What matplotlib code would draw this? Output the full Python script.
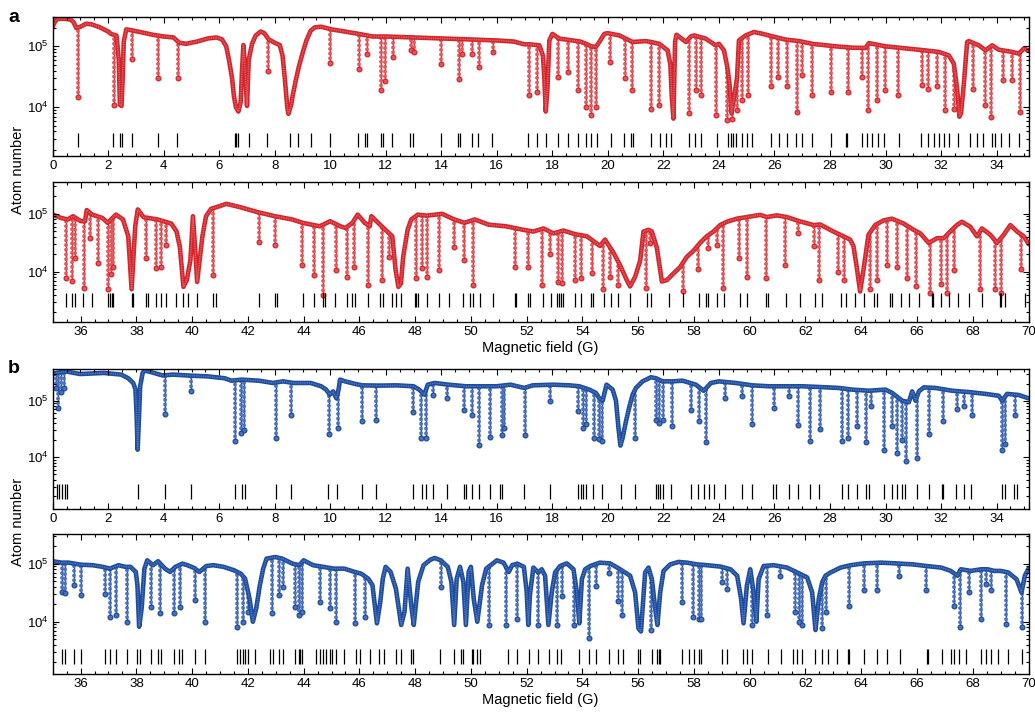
# -*- coding: utf-8 -*-
'''
Loss spectra of Er (a) and Dy (b): atom number vs magnetic field,
with the predicted resonance positions as short black bars underneath.
'''
import numpy as np
import matplotlib
matplotlib.use('Agg')
import matplotlib.pyplot as plt
from matplotlib.ticker import MultipleLocator, LogLocator, NullFormatter

plt.rcParams['font.family'] = ['Liberation Sans', 'DejaVu Sans']
plt.rcParams['mathtext.default'] = 'regular'

# ---------------- Er, 0-35 G ----------------
# slowly varying envelope incl. the broad features (field G, atom number)
er_low_base = [
  (0.0, 2.1e5), (0.05, 2.4e5), (0.15, 2.8e5), (0.4, 2.85e5), (0.65, 2.75e5), (0.75, 2.5e5),
  (0.85, 2.0e5), (1.0, 2.1e5), (1.2, 2.35e5), (1.4, 2.3e5), (1.7, 2.05e5), (2.0, 1.75e5),
  (2.1, 1.6e5), (2.3, 1.5e5), (2.38, 6e4), (2.42, 1.1e4), (2.48, 1.05e4), (2.52, 3e4),
  (2.56, 1.2e5), (2.65, 1.9e5), (2.8, 1.85e5), (3.2, 1.7e5), (3.6, 1.55e5), (4.0, 1.45e5),
  (4.35, 1.4e5), (4.55, 1.15e5), (4.8, 1.1e5), (5.2, 1.2e5), (5.6, 1.35e5), (5.9, 1.4e5),
  (6.1, 1.3e5), (6.25, 1.0e5), (6.35, 6e4), (6.46, 3e4), (6.53, 1.5e4), (6.6, 1.0e4),
  (6.69, 8.5e3), (6.77, 1.2e4), (6.82, 4e4), (6.87, 1.05e5), (6.93, 4e4), (7.0, 1.05e4),
  (7.06, 6e4), (7.18, 1.1e5), (7.31, 1.5e5), (7.49, 1.75e5), (7.62, 1.65e5), (7.78, 1.3e5),
  (7.99, 1.15e5), (8.18, 1.05e5), (8.28, 7e4), (8.36, 3e4), (8.45, 1.0e4), (8.49, 7.8e3),
  (8.59, 1.1e4), (8.65, 1.6e4), (8.76, 2.8e4), (8.86, 4.5e4), (9.01, 8e4), (9.14, 1.25e5),
  (9.29, 1.8e5), (9.44, 2.05e5), (9.67, 2.1e5), (10.04, 1.9e5), (10.53, 1.75e5), (11.03, 1.6e5),
  (11.53, 1.45e5), (12.02, 1.45e5), (13.01, 1.4e5), (14.01, 1.35e5), (15.0, 1.3e5), (15.99, 1.25e5),
  (16.61, 1.2e5), (16.99, 1.08e5), (17.17, 1.08e5), (17.53, 1.04e5), (17.66, 7e4), (17.71, 3e4),
  (17.76, 8.5e3), (17.82, 2e4), (17.89, 1.25e5), (18.0, 1.6e5), (18.25, 1.34e5), (19.0, 1.2e5),
  (19.21, 1.1e5), (19.4, 1.0e5), (19.57, 9.8e4), (19.7, 1.2e5), (19.87, 1.6e5), (19.99, 1.65e5),
  (20.41, 1.51e5), (20.89, 1.18e5), (21.37, 1.22e5), (21.55, 1.18e5), (21.85, 1.1e5), (22.15, 8.6e4),
  (22.25, 5e4), (22.3, 1.5e4), (22.36, 6.5e3), (22.42, 1.2e5), (22.47, 1.55e5), (22.81, 1.18e5),
  (22.99, 1.46e5), (23.11, 1.51e5), (23.52, 1.34e5), (23.88, 1.04e5), (24.0, 1.1e5), (24.18, 8.6e4),
  (24.3, 4.6e4), (24.38, 2.4e4), (24.45, 8e3), (24.55, 1.5e4), (24.65, 3e4), (24.72, 1.25e5),
  (24.96, 1.51e5), (25.26, 1.72e5), (25.56, 1.61e5), (25.92, 1.46e5), (26.4, 1.29e5), (26.88, 1.22e5),
  (27.36, 1.1e5), (28.2, 1.0e5), (28.8, 9.5e4), (29.28, 9.4e4), (29.4, 1.13e5), (30.0, 1.0e5),
  (31.2, 8.8e4), (31.92, 8.1e4), (32.28, 7.1e4), (32.46, 5.2e4), (32.58, 2e4), (32.66, 7e3),
  (32.72, 8e3), (32.82, 2.4e4), (32.94, 1.18e5), (33.0, 1.22e5), (33.36, 1.04e5), (33.6, 8.6e4),
  (33.84, 1.04e5), (34.08, 8.8e4), (34.56, 8.1e4), (34.8, 7.6e4), (34.98, 9.2e4), (35.15, 8.6e4)]
# narrow loss features: (field, lowest atom number)
er_low_dips = [
  (0.92, 1.5e4), (2.2, 1.1e4), (2.87, 6.3e4), (3.81, 3e4), (4.52, 3e4), (7.74, 4e4),
  (9.98, 5.3e4), (11.03, 4.3e4), (11.32, 7.4e4), (11.84, 1.9e4), (11.96, 2.7e4), (12.27, 6.6e4),
  (12.89, 8.6e4), (13.01, 8e4), (13.98, 5.2e4), (14.63, 2.9e4), (14.75, 7.4e4), (15.12, 7.4e4),
  (15.35, 4.6e4), (15.87, 8e4), (17.17, 1.6e4), (17.45, 1.8e4), (18.19, 3.1e4), (18.55, 3.8e4),
  (18.91, 1.95e4), (19.21, 1.0e4), (19.39, 7.4e3), (19.57, 1.0e4), (20.07, 5.5e4), (20.6, 3e4),
  (20.86, 1.9e4), (21.55, 9.2e3), (21.85, 1.1e4), (22.93, 7.9e3), (23.17, 1.9e4), (23.35, 1.6e4),
  (23.88, 7.4e3), (24.3, 6.1e3), (24.48, 6.5e3), (24.66, 9e3), (24.84, 1.3e4), (25.06, 1.6e4),
  (25.86, 2.2e4), (26.14, 3.1e4), (26.46, 2.2e4), (26.8, 8.4e3), (27.0, 3.4e4), (27.36, 1.6e4),
  (28.02, 1.8e4), (28.64, 1.8e4), (29.16, 3.1e4), (29.38, 9e3), (29.7, 1.3e4), (29.98, 1.9e4),
  (30.45, 1.6e4), (31.32, 2.3e4), (31.53, 2e4), (31.86, 2.2e4), (32.16, 9e3), (32.46, 9.5e3),
  (33.14, 2e4), (33.6, 1.1e4), (33.81, 7e3), (34.22, 2.8e4), (34.56, 2.8e4), (34.86, 8.4e3)]
er_low_theory = [
  0.92, 2.18, 2.42, 2.48, 2.84, 3.80, 4.48, 6.56, 6.62, 6.68, 7.06, 7.72, 8.54, 8.84, 9.32, 9.98,
  11.0, 11.25, 11.32, 11.81, 11.89, 12.24, 12.86, 12.98, 13.98, 14.6, 14.66, 15.09, 15.32, 15.84,
  17.13, 17.43, 17.77, 18.21, 18.55, 18.91, 19.21, 19.39, 19.6, 20.1, 20.59, 20.83, 20.92, 21.55,
  21.87, 22.09, 22.29, 22.93, 23.13, 23.35, 23.92, 24.34, 24.42, 24.52, 24.6, 24.84, 25.02, 25.2,
  25.86, 26.16, 26.46, 26.76, 27.0, 27.36, 28.02, 28.56, 28.62, 29.16, 29.34, 29.5, 29.72, 29.94,
  30.48, 31.29, 31.53, 31.74, 31.92, 32.12, 32.3, 32.6, 33.06, 33.3, 33.5, 33.84, 33.96, 34.17,
  34.43, 34.8]

# ---------------- Er, 35-70 G ----------------
er_high_base = [
  (35.0, 9.7e4), (35.3, 8.5e4), (35.54, 8e4), (35.73, 9.1e4), (36.0, 7.5e4), (36.16, 7.45e4),
  (36.22, 1.16e5), (36.41, 9.7e4), (36.78, 8.5e4), (36.97, 7e4), (37.15, 8.5e4), (37.27, 9.7e4),
  (37.52, 8e4), (37.71, 4.1e4), (37.83, 5e3), (37.96, 6.1e4), (38.05, 1.19e5), (38.26, 8.75e4),
  (38.76, 8e4), (39.25, 6.8e4), (39.44, 5e4), (39.56, 2.7e4), (39.69, 5.5e3), (39.81, 7.2e3),
  (39.94, 1.6e4), (40.03, 9.1e4), (40.12, 2.1e4), (40.18, 6.7e3), (40.27, 1.6e4), (40.37, 4.1e4),
  (40.5, 9.1e4), (40.68, 1.22e5), (40.99, 1.36e5), (41.23, 1.49e5), (41.73, 1.3e5), (42.35, 1.07e5),
  (42.97, 9.1e4), (43.59, 8e4), (43.96, 7e4), (44.58, 6.1e4), (44.95, 7.45e4), (45.32, 6.1e4),
  (45.5, 5.7e4), (45.75, 7e4), (45.94, 9.7e4), (46.19, 7e4), (46.37, 6.1e4), (46.43, 9.1e4),
  (46.8, 6.1e4), (47.18, 4.1e4), (47.3, 1.07e4), (47.4, 5.5e3), (47.49, 6.3e3), (47.57, 1.8e4),
  (47.73, 5.3e4), (47.86, 8e4), (48.1, 9.7e4), (48.41, 9.3e4), (48.97, 1e5), (49.4, 8e4),
  (49.77, 7e4), (50.14, 8e4), (50.64, 6.5e4), (51.26, 6.1e4), (51.88, 5.3e4), (52.24, 4.95e4),
  (52.6, 5.6e4), (52.96, 4.6e4), (53.32, 5.15e4), (53.74, 4.45e4), (54.16, 4.1e4), (54.63, 2.8e4),
  (54.81, 3.6e4), (55.11, 2.15e4), (55.35, 1.3e4), (55.59, 7.2e3), (55.71, 5.6e3), (55.89, 8.2e3),
  (56.07, 1.55e4), (56.19, 4.95e4), (56.37, 5.3e4), (56.49, 4.95e4), (56.67, 2.6e4), (56.85, 6.8e3),
  (57.03, 7.2e3), (57.27, 9.4e3), (57.5, 1.2e4), (57.74, 1.8e4), (57.98, 2.3e4), (58.22, 3.15e4),
  (58.46, 4.1e4), (58.7, 4.95e4), (58.94, 6.4e4), (59.18, 7.3e4), (59.54, 8.25e4), (60.02, 9e4),
  (60.38, 9.6e4), (60.61, 8.8e4), (60.97, 9.4e4), (61.33, 8.8e4), (61.81, 7.4e4), (62.29, 6.4e4),
  (62.53, 6.55e4), (63.0, 4.95e4), (63.25, 4.35e4), (63.6, 3.6e4), (63.72, 2.8e4), (63.84, 1.2e4),
  (63.96, 4.6e3), (64.08, 1.07e4), (64.26, 4.35e4), (64.5, 6.4e4), (64.8, 7.7e4), (65.1, 8.25e4),
  (65.52, 6.8e4), (65.88, 5.3e4), (66.12, 4.6e4), (66.42, 3.15e4), (66.72, 3.8e4), (66.96, 3.8e4),
  (67.19, 4.95e4), (67.43, 6.4e4), (67.61, 7.3e4), (67.91, 6e4), (68.15, 4.1e4), (68.33, 5.6e4),
  (68.63, 4.35e4), (68.87, 3.15e4), (69.11, 4.35e4), (69.35, 6.4e4), (69.59, 4.95e4), (69.83, 4.1e4),
  (70.01, 3e4)]
er_high_dips = [
  (35.49, 7.7e3), (35.69, 7e3), (35.8, 1.7e4), (36.12, 5.3e3), (36.35, 3.8e4), (36.62, 1.4e4),
  (37.0, 5.1e3), (37.09, 9.3e3), (37.17, 1.2e4), (38.33, 1.7e4), (38.7, 1.15e4), (38.88, 1.2e4),
  (39.07, 2.9e4), (40.74, 8.7e3), (42.41, 3.3e4), (42.97, 2.9e4), (43.93, 1.3e4), (44.39, 8.7e3),
  (44.7, 4e3), (45.16, 1.07e4), (45.56, 8.2e3), (45.81, 1.2e4), (46.31, 5.9e3), (46.8, 7.2e3),
  (47.05, 1.8e4), (48.04, 7.7e3), (48.23, 1.15e4), (48.41, 8.2e3), (48.84, 1.07e4), (49.4, 2.7e4),
  (49.77, 1.6e4), (50.08, 5.9e3), (51.59, 1.2e4), (52.06, 1.2e4), (52.54, 6e3), (52.84, 2e4),
  (53.14, 6.8e3), (53.28, 6.4e3), (53.74, 7.2e3), (53.94, 7.7e3), (54.33, 9.4e3), (54.75, 5e3),
  (54.99, 8.2e3), (55.26, 6e3), (56.28, 5.3e3), (56.43, 3.2e4), (57.6, 4.6e3), (58.16, 1.1e4),
  (58.52, 2.6e4), (58.82, 2.9e4), (59.06, 5.3e3), (59.6, 1.7e4), (59.9, 8.2e3), (60.59, 7.7e3),
  (61.27, 1.3e4), (61.75, 4.6e4), (62.29, 2.8e4), (62.5, 7.2e3), (63.16, 1e4), (63.4, 7.2e3),
  (64.32, 5e3), (64.56, 7.2e3), (64.92, 1.3e4), (65.28, 1.2e4), (65.64, 7.7e3), (65.97, 5.7e3),
  (66.48, 4.3e3), (66.86, 6.2e3), (67.07, 4.3e3), (67.32, 1.07e4), (68.26, 5e3), (68.81, 5e3),
  (69.0, 4.4e3), (69.72, 1.1e4)]
er_high_theory = [
  35.48, 35.69, 35.79, 36.1, 36.41, 37.0, 37.05, 37.11, 37.16, 37.83, 37.89, 38.33, 38.41, 38.7,
  38.88, 39.07, 39.44, 39.69, 39.87, 40.18, 40.74, 40.86, 42.41, 42.97, 43.03, 43.96, 44.39, 44.7,
  44.76, 45.13, 45.54, 45.75, 45.84, 46.31, 46.74, 46.86, 47.18, 47.3, 47.49, 47.98, 48.04, 48.1,
  48.41, 48.84, 49.22, 49.72, 49.96, 50.09, 50.33, 50.79, 51.59, 51.63, 52.06, 52.12, 52.58, 52.86,
  53.1, 53.17, 53.22, 53.29, 53.74, 53.94, 54.3, 54.39, 54.78, 55.02, 55.26, 55.71, 56.33, 56.45,
  57.09, 57.62, 58.19, 58.43, 58.52, 58.82, 59.08, 59.66, 59.9, 60.59, 60.64, 61.31, 61.82, 62.36,
  62.58, 63.29, 63.44, 63.78, 64.1, 64.46, 64.58, 65.02, 65.12, 65.42, 65.72, 66.08, 66.53, 66.59,
  66.86, 67.16, 67.46, 67.88, 68.33, 68.96, 69.02, 69.14, 69.86]

# ---------------- Dy, 0-35 G ----------------
dy_low_base = [
  (0.0, 2.9e5), (0.11, 3.1e5), (0.48, 3.3e5), (0.98, 2.97e5), (1.85, 3.1e5), (2.47, 2.9e5),
  (2.72, 2.5e5), (2.9, 2.06e5), (2.98, 1.6e5), (3.02, 6e4), (3.06, 1.35e4), (3.1, 4e4),
  (3.15, 1.8e5), (3.24, 3.1e5), (3.3, 3.4e5), (3.46, 3.3e5), (3.96, 2.8e5), (4.33, 2.9e5),
  (4.95, 2.78e5), (5.57, 2.7e5), (6.19, 2.5e5), (6.44, 2.26e5), (6.81, 2.36e5), (7.43, 2.26e5),
  (7.93, 2.06e5), (8.3, 2.2e5), (8.67, 2.06e5), (9.29, 2.06e5), (9.67, 1.8e5), (9.85, 1.57e5),
  (9.98, 1.28e5), (10.1, 1.46e5), (10.22, 1.1e5), (10.3, 1.6e5), (10.35, 2.36e5), (10.53, 2.2e5),
  (10.9, 1.98e5), (11.15, 1.87e5), (11.77, 1.85e5), (12.39, 1.87e5), (13.0, 1.8e5), (13.2, 1.57e5),
  (13.39, 1.28e5), (13.51, 1.92e5), (13.76, 2.06e5), (14.26, 1.92e5), (14.88, 1.8e5), (15.5, 1.8e5),
  (15.99, 1.8e5), (16.49, 1.92e5), (16.99, 1.68e5), (17.29, 1.87e5), (18.01, 1.92e5), (18.61, 1.87e5),
  (18.97, 1.8e5), (19.33, 1.57e5), (19.57, 1.37e5), (19.69, 1.1e5), (19.81, 1.0e5), (19.95, 1.92e5),
  (20.17, 1.57e5), (20.29, 1.0e5), (20.38, 3.3e4), (20.45, 1.6e4), (20.53, 2.2e4), (20.65, 4.3e4),
  (20.77, 7.7e4), (20.89, 1.28e5), (21.01, 1.68e5), (21.25, 2.2e5), (21.55, 2.6e5), (21.73, 2.5e5),
  (21.97, 2.2e5), (22.33, 2.2e5), (22.69, 2.26e5), (23.17, 1.92e5), (23.45, 1.5e5), (23.71, 2.06e5),
  (24.0, 2.2e5), (24.6, 2.06e5), (25.2, 1.87e5), (25.8, 1.8e5), (26.4, 1.8e5), (27.0, 1.8e5),
  (27.6, 1.75e5), (28.32, 1.68e5), (28.8, 1.57e5), (29.4, 1.5e5), (30.0, 1.57e5), (30.24, 1.37e5),
  (30.6, 1.0e5), (30.84, 9.4e4), (30.96, 1.46e5), (31.08, 1.0e5), (31.2, 1.46e5), (31.38, 1.72e5),
  (31.8, 1.68e5), (32.4, 1.5e5), (33.0, 1.42e5), (33.6, 1.32e5), (34.08, 1.22e5), (34.2, 1.0e5),
  (34.38, 1.32e5), (34.8, 1.26e5), (35.15, 1.1e5)]
dy_low_dips = [
  (0.11, 1.7e5), (0.2, 7.5e4), (0.3, 1.4e5), (0.42, 1.7e5), (4.04, 5.8e4), (4.99, 1.5e5),
  (6.56, 1.95e4), (6.77, 2.7e4), (6.9, 3e4), (8.05, 2.2e4), (8.57, 5.5e4), (9.94, 2.6e4),
  (10.26, 3.3e4), (11.13, 4.4e4), (11.65, 4.6e4), (12.98, 6.3e4), (13.26, 2.2e4), (13.45, 2.2e4),
  (13.7, 1.28e5), (14.2, 1.1e5), (14.81, 6.9e4), (15.1, 5.6e4), (15.37, 1.65e4), (15.74, 2.3e4),
  (16.17, 2.5e4), (16.27, 3.3e4), (17.0, 2.5e4), (17.93, 9.7e4), (18.91, 6.5e4), (19.09, 3.3e4),
  (19.21, 3.8e4), (19.51, 2.2e4), (19.69, 2.1e4), (19.78, 1.9e4), (20.98, 2.2e4), (21.73, 4.6e4),
  (21.85, 4e4), (21.99, 4.6e4), (22.3, 3.5e4), (23.0, 6.9e4), (23.28, 4.3e4), (23.52, 1.85e4),
  (24.21, 1.1e5), (24.84, 1.2e5), (25.2, 3.9e4), (25.98, 7.4e4), (26.52, 1.2e5), (26.86, 3.7e4),
  (27.27, 1.95e4), (27.63, 3.2e4), (28.42, 1.95e4), (28.66, 2.2e4), (28.98, 3.5e4), (29.3, 1.85e4),
  (29.48, 8e4), (29.94, 1.35e4), (30.24, 3.5e4), (30.42, 1.2e4), (30.6, 2e4), (30.72, 8.4e3),
  (31.14, 9.5e3), (31.58, 2.6e4), (32.06, 4.3e4), (32.58, 7e4), (32.82, 8e4), (33.12, 5.5e4),
  (34.2, 1.35e4), (34.32, 1.7e4), (34.68, 5.5e4)]
dy_low_theory = [
  0.15, 0.24, 0.33, 0.43, 0.52, 3.09, 4.04, 4.99, 6.56, 6.81, 6.91, 8.05, 8.59, 9.91, 10.25,
  11.13, 11.65, 12.98, 13.29, 13.45, 13.69, 14.19, 14.81, 14.87, 15.1, 15.37, 15.74, 16.12, 16.18,
  16.99, 17.93, 18.91, 19.03, 19.12, 19.21, 19.47, 19.78, 20.47, 20.98, 21.73, 21.79, 21.87, 21.99,
  22.29, 22.99, 23.26, 23.46, 23.64, 23.82, 24.21, 24.84, 25.2, 25.96, 26.04, 26.52, 26.85, 27.27,
  27.6, 28.42, 28.66, 28.98, 29.28, 29.4, 29.94, 30.24, 30.42, 30.6, 30.69, 31.14, 31.58, 32.04,
  32.06, 32.54, 32.84, 33.08, 34.2, 34.29, 34.64, 34.74]

# ---------------- Dy, 35-70 G ----------------
dy_high_base = [
  (35.0, 1.1e5), (35.32, 1.04e5), (35.57, 1.04e5), (36.0, 9.6e4), (36.43, 9.4e4), (36.8, 8.8e4),
  (37.05, 8.2e4), (37.36, 9.4e4), (37.61, 8.8e4), (37.79, 8.8e4), (37.98, 7.2e4), (38.04, 4.25e4),
  (38.1, 8.2e3), (38.19, 1.7e4), (38.29, 8.2e4), (38.39, 1.14e5), (38.6, 9.4e4), (38.78, 1.1e5),
  (39.03, 8.2e4), (39.21, 7.2e4), (39.4, 8.8e4), (39.65, 1e5), (39.83, 9.4e4), (40.08, 8.4e4),
  (40.26, 7.2e4), (40.51, 9.1e4), (40.76, 9.4e4), (41.13, 8.8e4), (41.5, 7.7e4), (41.75, 6.7e4),
  (41.9, 5.5e4), (42.06, 2.5e4), (42.18, 1e4), (42.3, 1.7e4), (42.43, 4.25e4), (42.55, 8.2e4),
  (42.67, 1.22e5), (42.8, 1.25e5), (42.98, 1.3e5), (43.23, 1.22e5), (43.6, 1e5), (43.85, 9.4e4),
  (44.0, 1.14e5), (44.34, 9.4e4), (44.71, 8.8e4), (45.09, 8.2e4), (45.46, 8.2e4), (45.83, 7.2e4),
  (46.07, 6.7e4), (46.32, 5.5e4), (46.47, 4.25e4), (46.63, 9.4e3), (46.75, 2.2e4), (46.84, 5.5e4),
  (46.94, 8.8e4), (47.12, 7.2e4), (47.31, 3.7e4), (47.43, 1.5e4), (47.5, 8.8e3), (47.62, 1.5e4),
  (47.73, 8.2e4), (47.86, 1.93e4), (47.95, 8.8e3), (48.11, 4.85e4), (48.3, 9.4e4), (48.55, 1.17e5),
  (48.7, 1.25e5), (48.92, 1.14e5), (49.17, 8.8e4), (49.3, 4.85e4), (49.4, 8.8e3), (49.49, 5.5e4),
  (49.61, 8.8e4), (49.73, 4.85e4), (49.82, 8.8e3), (49.92, 7.2e4), (50.0, 8.8e4), (50.1, 2.5e4),
  (50.23, 1e4), (50.4, 4.25e4), (50.55, 8.2e4), (50.93, 1.14e5), (51.17, 1.04e5), (51.36, 7.2e4),
  (51.48, 9.4e4), (51.66, 1e5), (51.9, 8.8e4), (52.0, 3.3e4), (52.06, 8.8e3), (52.12, 3e4),
  (52.24, 8.55e4), (52.42, 7.05e4), (52.54, 8e4), (52.66, 6.2e4), (52.78, 8.8e3), (52.9, 3.2e4),
  (53.02, 7.05e4), (53.2, 9.1e4), (53.44, 1.01e5), (53.68, 8e4), (53.8, 3.2e4), (53.89, 9.4e3),
  (53.98, 5.4e4), (54.1, 8e4), (54.28, 9.1e4), (54.63, 1.04e5), (54.99, 1.01e5), (55.35, 8e4),
  (55.71, 6.2e4), (55.89, 3.2e4), (56.01, 7.7e3), (56.1, 6.8e3), (56.16, 1.7e4), (56.25, 7.05e4),
  (56.37, 8.55e4), (56.49, 5.4e4), (56.61, 1.7e4), (56.69, 8.8e3), (56.79, 3.2e4), (56.91, 7.5e4),
  (57.15, 9.7e4), (57.45, 1.07e5), (57.75, 1.04e5), (58.11, 9.7e4), (58.47, 9.4e4), (58.95, 8.9e4),
  (59.31, 8e4), (59.55, 6.2e4), (59.69, 2.5e4), (59.78, 9.4e3), (59.9, 4.2e4), (60.02, 8e4),
  (60.14, 3.2e4), (60.24, 1e4), (60.32, 5.4e4), (60.5, 9.1e4), (60.86, 9.4e4), (61.34, 8.55e4),
  (61.7, 7.05e4), (62.06, 5.8e4), (62.24, 3.2e4), (62.36, 7.2e3), (62.48, 2.5e4), (62.6, 4.8e4),
  (62.72, 6.2e4), (62.9, 7.05e4), (63.26, 8.55e4), (63.62, 9.4e4), (64.1, 1.01e5), (64.7, 1.04e5),
  (65.26, 1.01e5), (65.86, 9.7e4), (66.34, 9.1e4), (66.87, 8.55e4), (67.21, 7.5e4), (67.45, 6.2e4),
  (67.57, 8e4), (67.93, 7.5e4), (68.31, 8e4), (68.53, 8e4), (68.77, 7.5e4), (69.0, 7.5e4),
  (69.27, 7.05e4), (69.57, 5.4e4), (69.75, 3.2e4), (69.87, 6.2e4), (70.0, 8.2e4)]
dy_high_dips = [
  (35.32, 3.3e4), (35.44, 3.1e4), (35.75, 4.25e4), (36.0, 2.9e4), (36.87, 3e4), (37.05, 1.2e4),
  (37.26, 1.3e4), (37.67, 1e4), (38.53, 1.8e4), (38.84, 1.4e4), (39.34, 1.4e4), (39.58, 1.8e4),
  (40.1, 2.35e4), (40.45, 1e4), (41.62, 8.2e3), (41.81, 1e4), (42.0, 1.5e4), (42.86, 1.4e4),
  (43.11, 2.9e4), (43.26, 4e4), (43.7, 1.8e4), (43.85, 1.3e4), (43.95, 1.5e4), (44.59, 2.2e4),
  (44.96, 1.7e4), (45.15, 1e4), (45.83, 9.4e3), (46.2, 1.2e4), (48.92, 4e4), (50.65, 8.8e3),
  (51.27, 8.8e3), (51.66, 1.1e4), (52.42, 8.8e3), (53.1, 8.8e3), (53.26, 2.8e4), (53.7, 8.8e3),
  (54.22, 5.2e3), (54.49, 4.2e4), (54.97, 7e4), (55.29, 2.3e4), (55.41, 1.3e4), (56.46, 7.2e3),
  (57.57, 2.2e4), (57.96, 1.2e4), (58.17, 1.1e4), (58.25, 1.1e4), (59.0, 4.8e4), (59.19, 3.7e4),
  (60.08, 8.8e3), (60.62, 1.3e4), (61.1, 6.2e4), (61.64, 1.5e4), (61.76, 1e4), (61.86, 8.8e3),
  (62.6, 7.7e3), (62.75, 1.5e4), (63.56, 1.9e4), (64.1, 3.5e4), (64.55, 3.5e4), (65.35, 6.2e4),
  (66.34, 3.5e4), (67.33, 1.9e4), (67.55, 8.2e3), (67.87, 3.2e4), (68.31, 1.1e4), (68.47, 4.5e4),
  (68.67, 3.5e4), (69.2, 9e3), (69.75, 8.2e3)]
dy_high_theory = [
  35.34, 35.44, 35.75, 36.0, 36.87, 37.05, 37.26, 37.67, 38.04, 38.14, 38.53, 38.78, 38.9, 39.34,
  39.52, 39.62, 40.1, 40.45, 41.62, 41.72, 41.81, 41.9, 42.0, 42.24, 42.8, 42.9, 43.13, 43.26, 43.7,
  43.82, 43.87, 43.95, 44.43, 44.59, 44.71, 44.81, 44.94, 45.02, 45.15, 45.46, 45.89, 46.01, 46.39,
  46.69, 46.88, 47.31, 47.49, 47.86, 47.93, 48.89, 49.39, 49.63, 49.72, 50.03, 50.09, 50.22, 50.34,
  51.33, 51.64, 52.07, 52.42, 52.79, 53.08, 53.23, 53.87, 54.22, 54.49, 54.97, 55.29, 55.45, 56.01,
  56.05, 56.49, 56.67, 56.73, 56.79, 57.57, 57.81, 57.99, 58.17, 58.25, 59.01, 59.19, 59.76, 59.9,
  60.08, 60.65, 61.13, 61.56, 61.68, 61.88, 62.36, 62.6, 62.8, 63.14, 63.53, 63.55, 64.1, 64.55,
  64.93, 65.39, 66.35, 66.4, 66.91, 67.21, 67.33, 67.51, 67.75, 68.29, 68.47, 68.65, 68.91, 69.25,
  69.75]

RED, RED_FILL = '#d3262c', '#e4575d'
BLUE, BLUE_FILL = '#1c4c9c', '#4d72bd'


def draw_panel(ax, base, dips, theory, xlim, ylim, bar_span, color, fill):
  base_b, base_n = np.array(base).T
  dip_b, dip_n = np.array(dips).T
  roof = ylim[1] * 10
  # narrow losses: thin line + chain of beads, cut off above the envelope
  ax.vlines(dip_b, dip_n, roof, colors=color, lw=1.0, zorder=2)
  beads = ax.vlines(dip_b, dip_n, roof, colors=fill, lw=2.8, linestyles=[(0, (0.01, 1.2))], zorder=2.2)
  beads.set_capstyle('round')
  ax.plot(dip_b, dip_n, 'o', ms=3.4, mfc=fill, mec=color, mew=0.9, zorder=2.4)
  ax.fill_between(base_b, base_n, roof, color='white', lw=0, zorder=3)
  # envelope drawn as a dense band of markers
  ax.plot(base_b, base_n, '-', color=color, lw=3.3, zorder=4,
          solid_capstyle='round', solid_joinstyle='round')
  ax.plot(base_b, base_n, color=fill, lw=1.3, ls=(0, (0.01, 1.25)), dash_capstyle='round', zorder=5)
  # predicted positions
  ax.vlines(theory, bar_span[0], bar_span[1], colors='black', lw=0.9, zorder=6)

  ax.set_yscale('log')
  ax.set_xlim(*xlim)
  ax.set_ylim(*ylim)
  ax.xaxis.set_major_locator(MultipleLocator(2))
  ax.xaxis.set_minor_locator(MultipleLocator(0.5))
  ax.yaxis.set_major_locator(LogLocator(base=10, numticks=10))
  ax.yaxis.set_minor_locator(LogLocator(base=10, subs=np.arange(2, 10), numticks=10))
  ax.yaxis.set_minor_formatter(NullFormatter())
  ax.tick_params(which='both', direction='in', top=True, right=True, width=0.8, labelsize=9.5, pad=3)
  ax.tick_params(which='major', length=4.5)
  ax.tick_params(which='minor', length=2.5)
  for s in ax.spines.values():
    s.set_linewidth(1.0)
    s.set_zorder(10)
  ax.xaxis.set_zorder(10)
  ax.yaxis.set_zorder(10)


fig = plt.figure(figsize=(10.35, 7.12), dpi=100)
W, H = 1035.0, 712.0
left, right = 52.7, 1028.5

def add_axes(top_px, bottom_px):
  return fig.add_axes([left / W, 1 - bottom_px / H, (right - left) / W, (bottom_px - top_px) / H])

ax1 = add_axes(17.3, 155.7)
ax2 = add_axes(182.3, 321.7)
ax3 = add_axes(369.3, 509.0)
ax4 = add_axes(534.3, 674.0)

draw_panel(ax1, er_low_base, er_low_dips, er_low_theory, (0, 35.15), (1.6e3, 3.0e5), (2.2e3, 3.8e3), RED, RED_FILL)
draw_panel(ax2, er_high_base, er_high_dips, er_high_theory, (35, 70), (1.38e3, 3.5e5), (2.5e3, 4.3e3), RED, RED_FILL)
draw_panel(ax3, dy_low_base, dy_low_dips, dy_low_theory, (0, 35.15), (1.2e3, 3.6e5), (1.8e3, 3.3e3), BLUE, BLUE_FILL)
draw_panel(ax4, dy_high_base, dy_high_dips, dy_high_theory, (35, 70), (1.26e3, 3.2e5), (1.9e3, 3.4e3), BLUE, BLUE_FILL)

for ax in (ax2, ax4):
  ax.set_xlabel('Magnetic field (G)', fontsize=10.5, labelpad=2)

fig.text(18 / W, 1 - 170 / H, 'Atom number', rotation=90, ha='center', va='center', fontsize=10.5)
fig.text(18 / W, 1 - 522 / H, 'Atom number', rotation=90, ha='center', va='center', fontsize=10.5)
fig.text(14 / W, 1 - 18 / H, 'a', fontsize=14, fontweight='bold', ha='center', va='center')
fig.text(14 / W, 1 - 368 / H, 'b', fontsize=14, fontweight='bold', ha='center', va='center')

fig.savefig('out.png', dpi=100)
